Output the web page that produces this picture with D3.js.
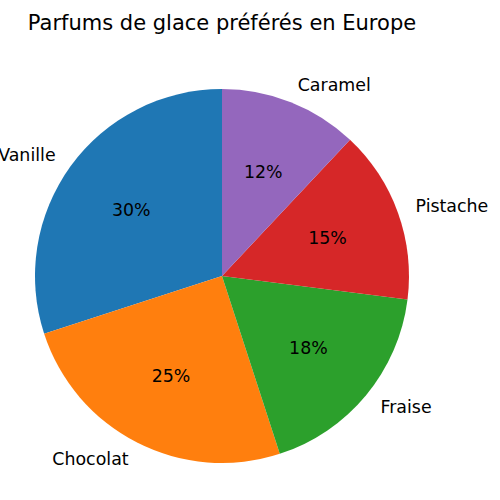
<!DOCTYPE html>
<html><head><meta charset="utf-8">
<script src="https://cdn.jsdelivr.net/npm/d3@7"></script>
<style>body{margin:0;background:#fff}svg{display:block}</style>
</head><body>
<svg id="c" width="500" height="500"></svg>
<script>
const title = "Parfums de glace préférés en Europe";
const categories = ["Vanille", "Chocolat", "Fraise", "Pistache", "Caramel"];
const values = [30, 25, 18, 15, 12];
const colors = ["#1f77b4", "#ff7f0e", "#2ca02c", "#d62728", "#9467bd"];

const svg = d3.select("#c");
const cx = 222, cy = 276, R = 187;
const font = "DejaVu Sans, sans-serif";

svg.append("text").attr("x", cx).attr("y", 30).attr("text-anchor", "middle")
  .attr("font-family", font).attr("font-size", 21).attr("fill", "#000").text(title);

const data = categories.map((c, i) => ({cat: c, v: values[i], col: colors[i]}));
const pie = d3.pie().value(d => d.v).sort(null).startAngle(0).endAngle(-2 * Math.PI);
const arcs = pie(data);
const arc = d3.arc().innerRadius(0).outerRadius(R);
const total = d3.sum(values);

const g = svg.append("g").attr("transform", `translate(${cx},${cy})`);
g.selectAll("path").data(arcs).enter().append("path")
  .attr("d", arc).attr("fill", d => d.data.col);

arcs.forEach(d => {
  const a = (d.startAngle + d.endAngle) / 2;
  const ux = Math.sin(a), uy = -Math.cos(a);
  g.append("text").attr("x", ux * R * 1.1).attr("y", uy * R * 1.1)
    .attr("text-anchor", ux > 0 ? "start" : "end")
    .attr("dominant-baseline", "central")
    .attr("font-family", font).attr("font-size", 17.4).attr("fill", "#000")
    .text(d.data.cat);
  g.append("text").attr("x", ux * R * 0.6).attr("y", uy * R * 0.6)
    .attr("text-anchor", "middle").attr("dominant-baseline", "central")
    .attr("font-family", font).attr("font-size", 17.4).attr("fill", "#000")
    .text(Math.round(d.data.v / total * 100) + "%");
});
</script>
</body></html>
